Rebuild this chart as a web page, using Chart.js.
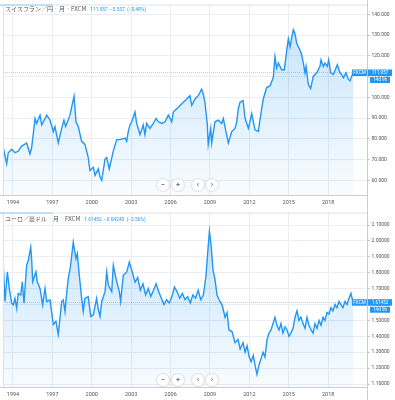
<!DOCTYPE html>
<html>
<head>
<meta charset="utf-8">
<script src="https://cdn.jsdelivr.net/npm/chart.js@4.4.0/dist/chart.umd.min.js"></script>
<style>
  html, body { margin: 0; padding: 0; background: #fff; }
  #wrap { position: relative; width: 395px; height: 400px; overflow: hidden; }
  .panel { position: absolute; left: 0; width: 395px; }
  #p1 { top: 0; height: 208px; }
  #p2 { top: 208px; height: 192px; }
</style>
</head>
<body>
<div id="wrap">
  <div class="panel" id="p1"><canvas id="c1"></canvas></div>
  <div class="panel" id="p2"><canvas id="c2"></canvas></div>
</div>
<script>
// years shown on the bottom axis of both panels
const yearTicks = [1994, 1997, 2000, 2003, 2006, 2009, 2012, 2015, 2018];

// スイスフラン／円 monthly
const chfDates = [1993.26,1993.52,1993.64,1993.90,1994.15,1994.40,1994.66,1994.91,1995.04,1995.29,
  1995.42,1995.68,1995.80,1996.06,1996.19,1996.57,1996.82,1997.07,1997.20,1997.45,
  1997.71,1997.88,1998.01,1998.34,1998.47,1998.65,1998.80,1998.97,1999.23,1999.48,
  1999.73,1999.86,2000.12,2000.25,2000.50,2000.63,2000.76,2001.01,2001.14,2001.33,
  2001.64,2001.90,2002.15,2002.53,2002.66,2002.78,2002.91,2003.04,2003.29,2003.42,
  2003.54,2003.67,2003.80,2003.92,2004.05,2004.18,2004.43,2004.69,2004.89,2005.07,
  2005.32,2005.58,2005.83,2006.09,2006.21,2006.47,2006.72,2006.97,2007.23,2007.48,
  2007.61,2007.86,2008.11,2008.37,2008.49,2008.62,2008.80,2008.87,2009.06,2009.13,
  2009.38,2009.64,2009.90,2010.02,2010.22,2010.40,2010.66,2010.91,2011.04,2011.16,
  2011.29,2011.52,2011.68,2011.93,2012.18,2012.43,2012.68,2012.94,2013.06,2013.32,
  2013.57,2013.82,2013.95,2014.08,2014.21,2014.46,2014.66,2014.85,2014.97,2015.10,
  2015.23,2015.35,2015.48,2015.61,2015.86,2015.99,2016.11,2016.24,2016.32,2016.49,
  2016.67,2016.87,2017.13,2017.38,2017.46,2017.63,2017.76,2017.94,2018.04,2018.20,
  2018.39,2018.70,2018.90,2019.03,2019.16,2019.36,2019.54,2019.67,2019.80,2019.92];
const chfValues = [75.7,68,73.3,75,73.3,74,76.5,77.4,78,72.7,
  75.7,89.8,87.4,91.4,86.7,91.4,89,83.5,85.9,78,
  85,89,85.9,91.4,95.3,100.5,88.2,85.9,78.8,77.3,
  71,64.7,66.3,62.4,65.5,61.6,60,70.2,71,65.5,
  74.1,79.6,79.6,80.4,78.8,83.5,86.7,88.2,92.9,87.4,
  85,82,84.3,86.7,82,87.4,85,87.4,89.8,88.2,
  87.4,88.2,91.4,88.2,92.9,94.5,96.1,97.6,99.2,100.8,
  96.1,99.2,100.8,103.9,101.6,97.6,86.7,77.3,85,78,
  88.2,89,87.4,89.8,83.5,78,83.5,85,88.2,94.5,
  97.6,98.4,89.8,85,92.1,84.3,83.5,94.5,99.2,104.7,
  105.5,109.4,119.6,114.1,116.5,113.3,113.3,122.7,128.2,124.3,
  129,132.5,130.6,125.9,122.7,120.4,116.5,111.8,114.9,106.3,
  104.2,110.2,111.8,114.9,118,114.9,116.5,114.9,118,111.8,
  111,115.7,111.8,111,109.4,111.8,108.6,107.9,110.2,111.957];
const chfTicks = [60, 70, 80, 90, 100, 110, 120, 130, 140];

// ユーロ／豪ドル monthly
const audDates = [1993.26,1993.39,1993.57,1993.72,1993.90,1994.02,1994.15,1994.28,1994.40,1994.59,
  1994.71,1994.84,1995.04,1995.17,1995.35,1995.42,1995.50,1995.75,1995.85,1996.06,
  1996.26,1996.44,1996.57,1996.82,1997.07,1997.27,1997.45,1997.58,1997.71,1997.83,
  1997.96,1998.09,1998.21,1998.39,1998.59,1998.80,1998.90,1999.05,1999.23,1999.35,
  1999.48,1999.73,1999.92,2000.12,2000.37,2000.50,2000.63,2000.76,2001.01,2001.14,
  2001.26,2001.52,2001.64,2001.90,2002.10,2002.20,2002.40,2002.66,2002.86,2003.10,
  2003.30,2003.50,2003.70,2003.90,2004.10,2004.30,2004.50,2004.70,2004.90,2005.10,
  2005.30,2005.50,2005.70,2005.90,2006.10,2006.30,2006.50,2006.70,2006.90,2007.10,
  2007.30,2007.50,2007.70,2007.90,2008.10,2008.30,2008.50,2008.70,2008.85,2008.96,
  2009.08,2009.23,2009.38,2009.54,2009.69,2009.92,2010.15,2010.30,2010.45,2010.68,
  2010.91,2011.14,2011.30,2011.52,2011.68,2011.83,2011.99,2012.14,2012.30,2012.43,
  2012.58,2012.74,2012.89,2013.04,2013.19,2013.35,2013.50,2013.65,2013.80,2013.95,
  2014.10,2014.26,2014.41,2014.56,2014.72,2014.87,2015.02,2015.17,2015.33,2015.48,
  2015.63,2015.78,2015.93,2016.09,2016.24,2016.39,2016.54,2016.70,2016.85,2017.00,
  2017.15,2017.31,2017.46,2017.61,2017.76,2017.91,2018.06,2018.22,2018.37,2018.52,
  2018.67,2018.83,2018.98,2019.13,2019.29,2019.44,2019.59,2019.74,2019.85,2019.92];
const audValues = [1.847,1.619,1.805,1.701,1.608,1.598,1.639,1.577,1.670,1.660,
  1.743,1.608,1.847,1.878,1.960,1.888,1.743,1.805,1.743,1.701,
  1.598,1.701,1.619,1.629,1.474,1.494,1.412,1.515,1.619,1.629,
  1.557,1.670,1.763,1.847,1.991,1.888,1.919,1.784,1.639,1.557,
  1.639,1.650,1.525,1.536,1.639,1.567,1.525,1.619,1.681,1.805,
  1.722,1.681,1.847,1.743,1.681,1.619,1.784,1.805,1.867,1.80,
  1.74,1.77,1.69,1.73,1.66,1.70,1.65,1.69,1.73,1.68,
  1.64,1.60,1.63,1.61,1.65,1.71,1.68,1.64,1.67,1.63,
  1.65,1.61,1.66,1.64,1.69,1.63,1.66,1.78,1.95,2.06,
  1.98,1.82,1.76,1.66,1.63,1.60,1.52,1.55,1.44,1.43,
  1.36,1.38,1.32,1.36,1.30,1.34,1.27,1.24,1.28,1.22,
  1.16,1.22,1.26,1.30,1.27,1.38,1.42,1.44,1.48,1.52,
  1.47,1.44,1.48,1.42,1.46,1.44,1.40,1.42,1.45,1.52,
  1.56,1.50,1.52,1.48,1.45,1.52,1.47,1.44,1.42,1.48,
  1.45,1.50,1.47,1.52,1.50,1.55,1.54,1.58,1.56,1.60,
  1.58,1.62,1.60,1.58,1.62,1.60,1.64,1.67,1.63,1.61452];
const audTicks = [1.1, 1.2, 1.3, 1.4, 1.5, 1.6, 1.7, 1.8, 1.9, 2.0, 2.1];

const BLUE = '#2196f3';
const GRID = '#eaedf1';
const AXIS = '#c9ccd1';
const TEXT = '#555';
const NUM_FONT = 'Roboto, "DejaVu Sans", sans-serif';
const JP_FONT = '"Noto Sans CJK JP", sans-serif';

// everything drawn on top: borders, price line, boxes, buttons, legend text
const decorations = (p) => ({
  id: 'deco',
  beforeDatasetsDraw(chart) {
    const { ctx, chartArea: a, scales } = chart;
    const y = Math.round(scales.y.getPixelForValue(p.last)) + 0.5;
    ctx.save();
    ctx.strokeStyle = 'rgba(33,150,243,0.4)';
    ctx.setLineDash([1, 1]);
    ctx.lineWidth = 1;
    ctx.beginPath();
    ctx.moveTo(a.left, y);
    ctx.lineTo(a.right, y);
    ctx.stroke();
    ctx.restore();
  },
  afterDraw(chart) {
    const { ctx, chartArea: a, scales } = chart;
    const h = chart.height;
    ctx.save();
    ctx.lineWidth = 1;

    // frame lines
    ctx.strokeStyle = '#dfe2e6';
    ctx.beginPath();
    ctx.moveTo(a.left + 0.5, a.top);
    ctx.lineTo(a.left + 0.5, a.bottom);
    ctx.moveTo(0, a.top + 0.5);
    ctx.lineTo(a.right, a.top + 0.5);
    ctx.stroke();
    ctx.strokeStyle = AXIS;
    ctx.beginPath();
    ctx.moveTo(0, a.bottom + 0.5);
    ctx.lineTo(a.right, a.bottom + 0.5);
    ctx.moveTo(a.right + 0.5, 0);
    ctx.lineTo(a.right + 0.5, h);
    ctx.stroke();
    // little tab highlight
    ctx.strokeStyle = '#9cccf5';
    ctx.beginPath();
    ctx.moveTo(0, a.top + 0.5);
    ctx.lineTo(53, a.top + 0.5);
    ctx.stroke();

    // price boxes on the right axis
    const py = scales.y.getPixelForValue(p.last);
    ctx.fillStyle = BLUE;
    ctx.fillRect(a.right - 15, py - 3, 15, 6.5);
    ctx.fillRect(a.right + 1, py - 3, 24, 6.5);
    ctx.fillRect(a.right + 3, py + 4.5, 20, 6);
    ctx.fillStyle = '#fff';
    ctx.font = '4.6px ' + NUM_FONT;
    ctx.textBaseline = 'middle';
    ctx.textAlign = 'center';
    ctx.fillText('FXCM', a.right - 7.5, py + 0.3);
    ctx.fillText(p.lastLabel, a.right + 13, py + 0.3);
    ctx.fillText('14d 9h', a.right + 13, py + 7.6);

    // zoom / scroll buttons
    const by = p.buttonY;
    [[163, '−'], [178, '+'], [198, '‹'], [212, '›']].forEach(([bx, s]) => {
      ctx.beginPath();
      ctx.arc(bx, by, 6.3, 0, Math.PI * 2);
      ctx.fillStyle = '#fff';
      ctx.shadowColor = 'rgba(0,0,0,0.18)';
      ctx.shadowBlur = 2;
      ctx.fill();
      ctx.shadowBlur = 0;
      ctx.strokeStyle = '#e3e6ea';
      ctx.stroke();
      ctx.fillStyle = '#444';
      ctx.font = '8px ' + NUM_FONT;
      ctx.fillText(s, bx, by + 0.3);
    });

    // legend text
    ctx.textAlign = 'left';
    ctx.fillStyle = TEXT;
    ctx.font = '6px ' + JP_FONT;
    ctx.fillText(p.title, 5, p.titleY);
    const tw = ctx.measureText(p.title).width;
    ctx.fillStyle = BLUE;
    ctx.font = '4.8px ' + NUM_FONT;
    ctx.fillText(p.quote, 5 + tw + 4, p.titleY + 0.5);
    ctx.restore();
  }
});

function drawPanel(canvasId, p) {
  const points = p.dates.map((d, i) => ({ x: d, y: p.values[i] }));
  return new Chart(document.getElementById(canvasId), {
    type: 'line',
    data: {
      datasets: [{
        data: points,
        borderColor: BLUE,
        borderWidth: 1.4,
        pointRadius: 0,
        tension: 0,
        fill: 'start',
        backgroundColor: (c) => {
          const area = c.chart.chartArea;
          if (!area) return 'rgba(33,150,243,0.1)';
          const g = c.chart.ctx.createLinearGradient(0, area.top, 0, area.bottom);
          g.addColorStop(0, 'rgba(33,150,243,0.28)');
          g.addColorStop(1, 'rgba(33,150,243,0.03)');
          return g;
        }
      }]
    },
    options: {
      responsive: true,
      maintainAspectRatio: false,
      animation: false,
      devicePixelRatio: 1,
      layout: { padding: { left: 3, top: p.padTop, right: 0, bottom: 0 } },
      plugins: { legend: { display: false }, tooltip: { enabled: false } },
      scales: {
        x: {
          type: 'linear',
          min: 1993.24,
          max: 2020.96,
          afterBuildTicks: (s) => { s.ticks = yearTicks.map((v) => ({ value: v })); },
          afterFit: (s) => { s.height = 13; },
          ticks: {
            autoSkip: false, maxRotation: 0, padding: 4,
            color: TEXT, font: { size: 5.5, family: NUM_FONT },
            callback: (v) => String(v)
          },
          grid: { color: GRID, drawTicks: false },
          border: { display: false }
        },
        y: {
          position: 'right',
          min: p.yMin,
          max: p.yMax,
          afterBuildTicks: (s) => { s.ticks = p.yTicks.map((v) => ({ value: v })); },
          afterFit: (s) => { s.width = 28; },
          ticks: {
            padding: 1.5,
            color: TEXT, font: { size: 5, family: NUM_FONT },
            callback: (v) => v.toFixed(p.decimals)
          },
          grid: { color: GRID, tickLength: 3, tickColor: AXIS },
          border: { display: false }
        }
      }
    },
    plugins: [decorations(p)]
  });
}

drawPanel('c1', {
  dates: chfDates, values: chfValues, yTicks: chfTicks, decimals: 3,
  yMin: 52.94, yMax: 144.71, padTop: 0,
  last: 111.957, lastLabel: '111.957',
  title: 'スイスフラン／円 · 月 · FXCM', quote: '111.957  −0.537  (−0.48%)',
  titleY: 9, buttonY: 185
});

drawPanel('c2', {
  dates: audDates, values: audValues, yTicks: audTicks, decimals: 5,
  yMin: 1.0814, yMax: 2.1787, padTop: 2,
  last: 1.61452, lastLabel: '1.61452',
  title: 'ユーロ／豪ドル · 月 · FXCM', quote: '1.61452  −0.04243  (−2.56%)',
  titleY: 11, buttonY: 172
});
</script>
</body>
</html>
